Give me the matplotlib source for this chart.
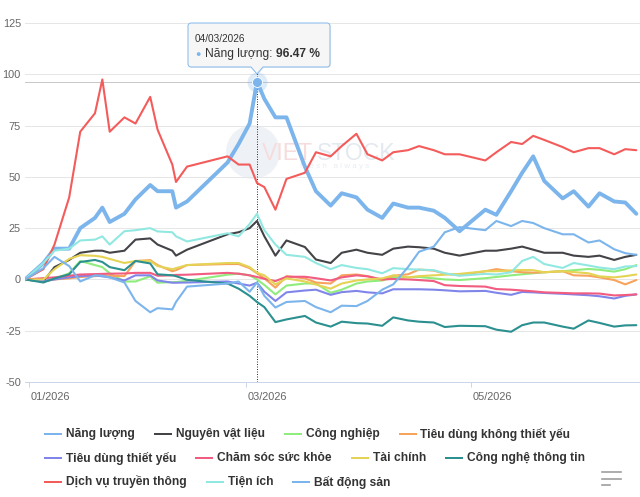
import numpy as np
import pandas as pd
import matplotlib
matplotlib.use("Agg")
import matplotlib.pyplot as plt
import matplotlib.dates as mdates
import matplotlib.transforms as mtrans
from matplotlib.patches import Polygon, Circle

plt.rcParams['font.family'] = ['Liberation Sans', 'DejaVu Sans']
plt.rcParams['axes.unicode_minus'] = False

# ---- data (percent change since 31/12/2025) ----
dates = ["2025-12-31", "2026-01-05", "2026-01-08", "2026-01-12", "2026-01-15", "2026-01-19",
         "2026-01-21", "2026-01-23", "2026-01-27", "2026-01-30", "2026-02-03", "2026-02-05",
         "2026-02-09", "2026-02-10", "2026-02-13", "2026-02-24", "2026-02-27", "2026-03-02",
         "2026-03-04", "2026-03-06", "2026-03-09", "2026-03-12", "2026-03-17", "2026-03-20",
         "2026-03-24", "2026-03-27", "2026-03-31", "2026-04-03", "2026-04-07", "2026-04-10",
         "2026-04-14", "2026-04-17", "2026-04-21", "2026-04-24", "2026-04-28", "2026-05-05",
         "2026-05-08", "2026-05-12", "2026-05-15", "2026-05-18", "2026-05-21", "2026-05-26",
         "2026-05-29", "2026-06-02", "2026-06-05", "2026-06-09", "2026-06-12", "2026-06-15"]

nang_luong = [0, 8, 15, 15, 25, 30, 35, 28, 32, 39, 46, 43, 43, 35, 38, 57, 66, 76, 96.47, 88,
              79, 79, 55, 43, 36, 42, 40, 34, 30, 37, 35, 35, 33.5, 30, 23.5, 34, 31.5, 43, 52, 60,
              48, 39.5, 43, 35.5, 42, 38, 37.5, 32]
nguyen_vat_lieu = [0, -1, 6, 9.5, 13, 14, 14, 13, 14, 19.4, 20, 17, 14, 11.6, 14.5, 22, 23, 25,
                   28.5, 21, 11.6, 19, 15.8, 9.7, 8, 13, 14.5, 13, 12, 15, 16, 15.7, 15, 13, 11.6,
                   14, 14, 15, 16, 14.5, 13, 13, 11.6, 11, 11.6, 9.5, 11, 12]
cong_nghiep = [0, -1, 0.3, 3, 9, 7, 6, 3, -1, -1, 1.5, -1.6, -1.3, -1.3, -0.7, 2.3, 2.8, 2, 0,
               -2.7, -7.3, -3, -2, -2, -6.5, -5, -2, -1, -0.5, 1, 1, 1.2, 0.5, 0, -0.3, 0.6, 1.2,
               2, 2.5, 3, 3.5, 4, 4.5, 5.1, 4.7, 3.8, 5, 7]
tieu_dung_ktx = [0, -1, 0, 0.5, 1.2, 1.6, 2, 1.8, 1.6, 9, 9.4, 7, 4, 4.5, 7, 7.5, 7.5, 5.5, 3, 0.5,
                 -4, 1.6, 0.5, -1.5, -2, 2, 2.4, 1.6, -0.3, 1.8, 2.5, 4.8, 4.3, 2.8, 2, 4, 5, 4,
                 3.5, 3.3, 3.5, 4, 2, 1.8, 1, -0.3, -2.4, -0.3]
tieu_dung_ty = [0, -0.8, 0, 1, 1.6, 2, 1.5, 1, -0.5, 2, 2, -0.5, -1.6, -1.6, -1.5, -1, -2, -3,
                -1.6, -6, -10.5, -6.3, -5.4, -5, -7.5, -6.2, -5.6, -6.3, -6.8, -4.8, -4.8, -4.8,
                -5, -5.3, -5.8, -5.6, -6.5, -7.5, -6.1, -6.3, -6.6, -7, -7.3, -7.7, -8.2, -9.3,
                -8, -7.3]
cham_soc = [0, 0.6, 1, 1.8, 2.4, 2.6, 2.7, 2.8, 2.9, 3.2, 3.2, 1.8, 2, 2.2, 2.3, 3.2, 2.8, 2,
            1.2, 0.3, -0.8, 1.3, 1.3, 0.6, -0.5, 1, 2, 1.5, 0, 0.2, 0, -0.3, -0.8, -2.8, -3.2,
            -3.5, -4.7, -5, -5.4, -5.8, -6.3, -6.6, -6.8, -6.8, -6.9, -7.8, -7.6, -7.3]
tai_chinh = [0, 0, 5, 10, 11.8, 11.5, 11, 10, 8, 9, 9, 6.5, 5, 5.5, 7, 8, 8, 6, 3.2, 2, -2.4,
             0.5, -1, -2.5, -4.5, -2, -0.5, 0, 0.5, 2, 1, 1.6, 2, 2.3, 2.7, 4, 4, 4.4, 4.6, 4.5,
             3.5, 4, 3.6, 3, 1.5, 1, 1.6, 2.4]
cntt = [0, -1.5, 0.5, 2.5, 8.5, 9.5, 8.5, 6, 4.5, 9, 7.8, 2.5, 2, 1.6, -0.2, -2, -4.5, -8, -11,
        -13.5, -20.8, -19.5, -17.8, -21, -23, -20.6, -21.3, -21.5, -22.6, -18.5, -20, -20.6,
        -21, -23.2, -22.6, -22.8, -24.5, -25.5, -22.3, -21, -21, -23, -24, -20, -21.2, -23,
        -22.4, -22.3]
dich_vu = [0, 5, 17, 40, 72, 81, 97.5, 72, 79, 76, 89, 73, 56, 47.5, 55, 60, 56, 56, 47, 45,
           34, 49, 52, 62, 60, 65, 71, 61, 58, 62, 63, 65, 63, 61, 61, 58, 62, 67, 66, 70, 68,
           64.5, 62, 64, 64, 61, 63.5, 63]
tien_ich = [0, 8, 14, 15, 19, 19.4, 21, 17, 23.5, 24, 25, 23.4, 23, 21, 18.5, 22.5, 21, 27, 32,
            24, 17, 12, 11, 8, 5, 7, 5.6, 5, 3, 5.5, 5, 4.8, 4.5, 3, 1.8, 2.7, 2.4, 3.5, 9, 11,
            7.5, 5.6, 8, 6.8, 5.8, 5, 6.3, 6.5]
bat_dong_san = [0, 5.5, 11, 6.5, -1, 2, 1.8, 1, -1.5, -10.5, -16, -14, -14.6, -11, -3.5, -2, -1,
                -6, -1.5, -8, -13.7, -11, -10.5, -13.5, -16, -12.8, -13, -10.5, -5, -2.4, 6,
                13.5, 16, 23, 25.5, 24, 28.5, 26, 28.5, 27.5, 25, 22, 22, 18, 19, 14.7, 12.8, 12]

names = ["Năng lượng", "Nguyên vật liệu", "Công nghiệp", "Tiêu dùng không thiết yếu",
         "Tiêu dùng thiết yếu", "Chăm sóc sức khỏe", "Tài chính", "Công nghệ thông tin",
         "Dịch vụ truyền thông", "Tiện ích", "Bất động sản"]
values = [nang_luong, nguyen_vat_lieu, cong_nghiep, tieu_dung_ktx, tieu_dung_ty, cham_soc,
          tai_chinh, cntt, dich_vu, tien_ich, bat_dong_san]
colors = ["#7cb5ec", "#434348", "#90ed7d", "#f7a35c", "#8085e9", "#f15c80", "#e4d354",
          "#2b908f", "#f45b5b", "#91e8e1", "#7cb5ec"]
hover_idx = 18   # 04/03/2026 on "Năng lượng"

W, H = 640, 497
fig = plt.figure(figsize=(W / 100, H / 100), dpi=100, facecolor="white")
PT = 0.72  # points per pixel

# background layer (watermark), plot, foreground layer (tooltip, legend)
bg = fig.add_axes([0, 0, 1, 1], zorder=1)
ax = fig.add_axes([25 / W, 1 - 382 / H, 615 / W, 359 / H], zorder=2)
fg = fig.add_axes([0, 0, 1, 1], zorder=3)
for a in (bg, fg):
    a.set_xlim(0, W)
    a.set_ylim(H, 0)
    a.axis("off")
    a.patch.set_alpha(0)
ax.patch.set_alpha(0)

# watermark
bg.add_patch(Circle((253, 152), 27, facecolor="#dfe7f0", edgecolor="none", alpha=0.5))
bg.text(262, 153, "VIET", fontsize=23 * PT, color="#f6dcdc", va="center", ha="left")
bg.text(317, 153, "STOCK", fontsize=23 * PT, color="#e4e9ef", va="center", ha="left")
bg.text(300, 167, "f r e s h   a l w a y s", fontsize=8 * PT, color="#e9edf2", va="center")

x = mdates.date2num(pd.to_datetime(dates))
for name, vals, c in zip(names, values, colors):
    lw = 2.8 if name == names[0] else 1.5
    ax.plot(x, vals, color=c, lw=lw, solid_joinstyle="round", solid_capstyle="round")

ax.set_xlim(mdates.date2num(pd.Timestamp("2025-12-31")), mdates.date2num(pd.Timestamp("2026-06-16")))
ax.set_ylim(-50, 125)
ax.set_yticks(np.arange(-50, 126, 25))
ax.grid(axis="y", color="#e6e6e6", lw=1 * PT)
ax.set_axisbelow(True)
for s in ("top", "right", "left"):
    ax.spines[s].set_visible(False)
ax.spines["bottom"].set_color("#ccd6eb")
ax.spines["bottom"].set_linewidth(1 * PT)
ax.tick_params(axis="y", length=0, pad=4 * PT, labelsize=11 * PT, labelcolor="#666666")

tick_dates = ["2026-01-01", "2026-03-01", "2026-05-01"]
ax.set_xticks(mdates.date2num(pd.to_datetime(tick_dates)))
ax.set_xticklabels([pd.Timestamp(d).strftime("%m/%Y") for d in tick_dates], ha="left")
ax.tick_params(axis="x", length=5 * PT, width=1 * PT, color="#ccd6eb", pad=5 * PT,
               labelsize=11 * PT, labelcolor="#666666")
off = mtrans.ScaledTranslation(2 / 100, 0, fig.dpi_scale_trans)
for lbl in ax.get_xticklabels():
    lbl.set_transform(lbl.get_transform() + off)

# crosshairs and hover marker
hx, hy = x[hover_idx], nang_luong[hover_idx]
ax.axhline(hy, color="#c8c8c8", lw=1 * PT, zorder=1)
ax.plot([hx, hx], [-50, 100.5], color="#1d3a5a", lw=1 * PT, ls=(0, (1, 1.5)), zorder=1)
ax.plot(hx, hy, "o", ms=20 * PT, color=colors[0], alpha=0.25, mec="none", zorder=5)
ax.plot(hx, hy, "o", ms=10 * PT, color=colors[0], mec="white", mew=0.6, zorder=6)

# tooltip callout
def callout(x0, y0, x1, y1, r, px, py, hw):
    pts = []
    def arc(cx, cy, a0, a1):
        for t in np.radians(np.linspace(a0, a1, 6)):
            pts.append((cx + r * np.cos(t), cy + r * np.sin(t)))
    arc(x1 - r, y0 + r, -90, 0)
    arc(x1 - r, y1 - r, 0, 90)
    pts += [(px + hw, y1), (px, py), (px - hw, y1)]
    arc(x0 + r, y1 - r, 90, 180)
    arc(x0 + r, y0 + r, 180, 270)
    return np.array(pts)

tip = callout(188, 23, 330, 67, 3, 257, 74, 6)
fg.add_patch(Polygon(tip + [1, 1], closed=True, facecolor="#000000", alpha=0.06, edgecolor="none"))
fg.add_patch(Polygon(tip, closed=True, facecolor="#f7f7f7", alpha=0.92,
                     edgecolor=colors[0], lw=1 * PT))
fg.text(195, 39, pd.Timestamp(dates[hover_idx]).strftime("%d/%m/%Y"), fontsize=10 * PT,
        color="#333333", va="center")
fg.text(195, 54, "●", fontsize=9 * PT, color=colors[0], va="center")
renderer = fig.canvas.get_renderer()
t1 = fg.text(205, 54, names[0] + ": ", fontsize=12 * PT, color="#333333", va="center")
w1 = t1.get_window_extent(renderer).width
fg.text(205 + w1, 54, "%.2f %%" % hy, fontsize=12 * PT, color="#333333", va="center",
        fontweight="bold")

# legend (Highcharts-style flow, 3 rows)
rows = [[0, 1, 2, 3], [4, 5, 6, 7], [8, 9, 10]]
row_y = [434, 458, 482]
for row, yy in zip(rows, row_y):
    xx = 45
    for i in row:
        fg.plot([xx, xx + 16], [yy, yy], color=colors[i], lw=2 * PT)
        t = fg.text(xx + 21, yy, names[i], fontsize=12 * PT, fontweight="bold",
                    color="#333333", va="center")
        xx = xx + 21 + t.get_window_extent(renderer).width + 20

# context menu icon
for yy, x_end in zip([472, 478.5, 485], [621, 621, 610]):
    fg.plot([602, x_end], [yy, yy], color="#9a9a9a", lw=1.6 * PT)

fig.savefig("out.png", dpi=100, facecolor="white")
